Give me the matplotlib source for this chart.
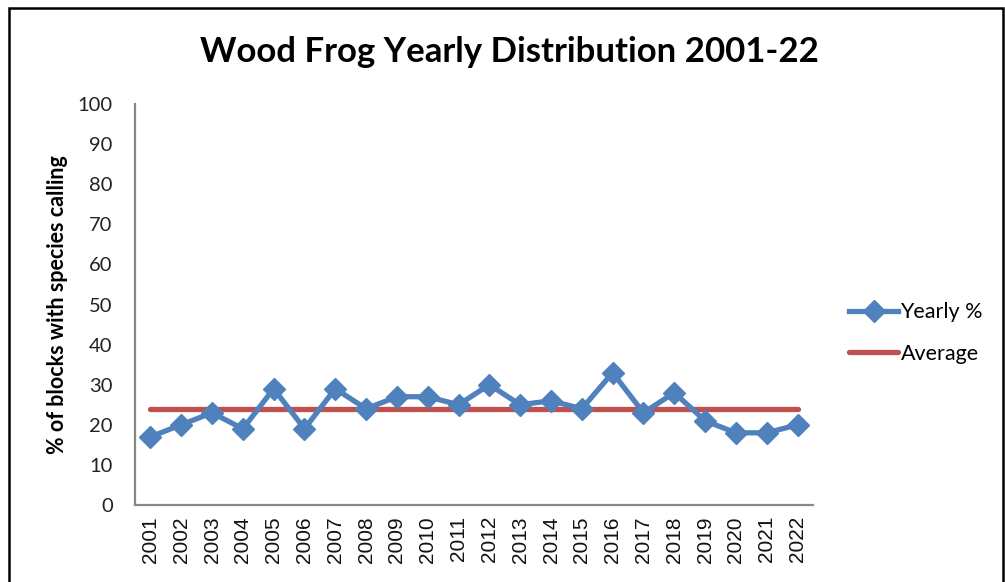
import matplotlib
matplotlib.use("Agg")
import matplotlib.pyplot as plt
from matplotlib.patches import Rectangle

years = [str(y) for y in range(2001, 2023)]
yearly_pct = [17, 20, 23, 19, 29, 19, 29, 24, 27, 27, 25, 30, 25, 26, 24, 33, 23, 28, 21, 18, 18, 20]
average_pct = [24] * len(years)
y_ticks = list(range(0, 101, 10))

BLUE = "#4F81BD"
RED = "#C0504D"
AXIS_GRAY = "#888888"

fig = plt.figure(figsize=(10.05, 5.82), dpi=100)
ax = fig.add_axes([0.1343, 0.1323, 0.6746, 0.689])

x = list(range(len(years)))
ax.plot(x, average_pct, color=RED, lw=3.8, solid_capstyle="round", label="Average", zorder=2)
ax.plot(x, yearly_pct, color=BLUE, lw=3.8, marker="D", markersize=11,
        markeredgecolor=BLUE, markerfacecolor=BLUE, solid_joinstyle="miter",
        label="Yearly %", zorder=3)

ax.set_xlim(-0.5, len(years) - 0.5)
ax.set_ylim(0, 100)
ax.set_yticks(y_ticks)
ax.set_yticklabels([str(t) for t in y_ticks], fontfamily="Lato", fontsize=14.5, color="#222222")
ax.set_xticks(x)
ax.set_xticklabels(years, rotation=90, fontfamily="Liberation Sans", fontsize=15, color="#111111")
ax.tick_params(axis="x", length=0, pad=8)
ax.tick_params(axis="y", length=0, pad=16)

for side in ("top", "right"):
    ax.spines[side].set_visible(False)
for side in ("left", "bottom"):
    ax.spines[side].set_color(AXIS_GRAY)
    ax.spines[side].set_linewidth(1.6)

ax.set_ylabel("% of blocks with species calling", fontfamily="Lato", fontweight="bold",
              fontsize=15.5)
ax.yaxis.set_label_coords(-0.099, 0.5)

fig.text(0.507, 0.91, "Wood Frog Yearly Distribution 2001-22", ha="center", va="center",
         fontfamily="Lato", fontweight="bold", fontsize=25)

handles, labels = ax.get_legend_handles_labels()
leg = fig.legend([handles[1], handles[0]], [labels[1], labels[0]],
                 loc="center left", bbox_to_anchor=(0.836, 0.428), frameon=False,
                 prop={"family": "Lato", "size": 15.5}, handlelength=2.3,
                 handletextpad=0.1, labelspacing=1.0, borderaxespad=0)

# outer chart frame
fig.patches.append(Rectangle((0.009, -0.05), 0.989, 1.036, transform=fig.transFigure,
                             fill=False, edgecolor="black", lw=1.8))

fig.savefig("out.png", dpi=100)
